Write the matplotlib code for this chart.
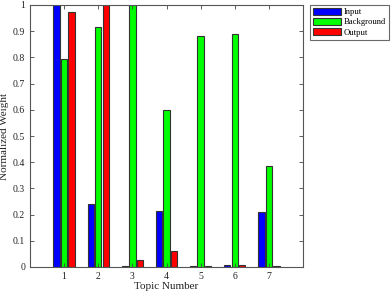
import matplotlib
matplotlib.use("Agg")
import matplotlib.pyplot as plt
import numpy as np

topics = [1, 2, 3, 4, 5, 6, 7]
input_w = [1.0, 0.242, 0.005, 0.215, 0.004, 0.008, 0.211]
background_w = [0.795, 0.917, 1.0, 0.600, 0.882, 0.889, 0.386]
output_w = [0.975, 1.0, 0.028, 0.062, 0.004, 0.008, 0.002]
yticks = [0, 0.1, 0.2, 0.3, 0.4, 0.5, 0.6, 0.7, 0.8, 0.9, 1]
ytick_labels = ["0", "0.1", "0.2", "0.3", "0.4", "0.5", "0.6", "0.7", "0.8", "0.9", "1"]

plt.rcParams['font.family'] = ['Liberation Serif', 'DejaVu Serif']

fig = plt.figure(figsize=(3.92, 2.94), dpi=100)
ax = fig.add_axes([30/392, 1 - 267/294, 273/392, 262/294])

x = np.array(topics, dtype=float)
w = 0.19
off = 0.22
ec = '#333333'
ax.bar(x - off, input_w, w, color='#0000ff', edgecolor=ec, linewidth=0.8, label='Input')
ax.bar(x, background_w, w, color='#00ff00', edgecolor=ec, linewidth=0.8, label='Background')
ax.bar(x + off, output_w, w, color='#ff0000', edgecolor=ec, linewidth=0.8, label='Output')

ax.set_xlim(0, 8)
ax.set_ylim(0, 1)
ax.set_xticks(topics)
ax.set_yticks(yticks)
ax.set_yticklabels(ytick_labels)
ax.tick_params(direction='in', top=True, right=True, labelsize=7, length=3, width=0.6, colors='#444444', labelcolor='#222222')
for s in ax.spines.values():
    s.set_color('#555555')
    s.set_linewidth(0.8)
ax.set_xlabel('Topic Number', fontsize=8, labelpad=1, color='#222222')
ax.set_ylabel('Normalized Weight', fontsize=8, labelpad=3, color='#222222')

leg = ax.legend(loc='upper left', fontsize=6.2,
                frameon=True, fancybox=False, edgecolor='#444444', handlelength=3.2, handleheight=1.0,
                borderpad=0.35, labelspacing=0.15, handletextpad=0.4, borderaxespad=0.0, shadow=False)
leg.get_frame().set_linewidth(0.8)
leg.set_bbox_to_anchor(((310 - 30)/273, 1.0 + 0.5/262), transform=ax.transAxes)

fig.savefig('out.png', dpi=100)
